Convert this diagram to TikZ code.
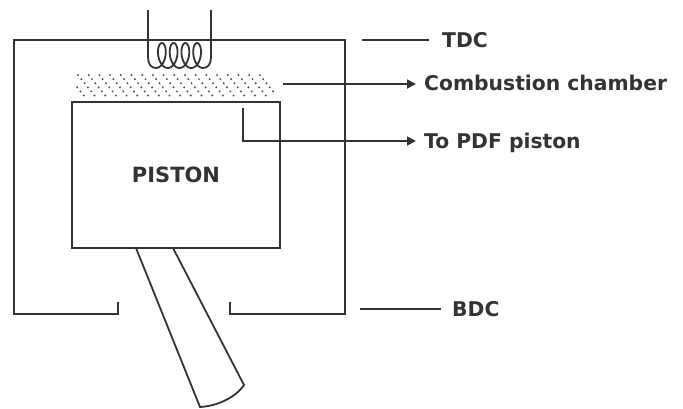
\documentclass[tikz,border=0pt]{standalone}
\usepackage{fontspec}
\setmainfont{DejaVu Sans}
\usetikzlibrary{arrows.meta}
\definecolor{ink}{HTML}{333333}
\tikzset{
  wall/.style={draw=ink,line width=2pt,line join=miter},
  thin wall/.style={draw=ink,line width=1.8pt},
  leader/.style={draw=ink,line width=1.8pt},
  pointer/.style={leader,-{Triangle[length=9pt,width=9pt]}},
  caption/.style={text=ink,font=\bfseries\fontsize{20.3}{24}\selectfont,inner sep=0pt,anchor=base west},
  speck/.style={fill=ink!85,draw=none}
}
\begin{document}
\begin{tikzpicture}[x=1pt,y=-1pt]
\useasboundingbox (0,0) rectangle (683,408);
% cylinder
\coordinate (cl) at (118,302);
\coordinate (cr) at (230,302);
\draw[wall] (cl) -- (118,314) -- (14,314) -- (14,40) -- (345,40) -- (345,314) -- (230,314) -- (cr);
% rod
\draw[thin wall] (136,248) -- (200,407) .. controls (217,406) and (235,398) .. (244,385) -- (173,248);
% piston
\node[wall,fill=white,minimum width=208pt,minimum height=146pt,inner sep=0pt,font=\bfseries\fontsize{21}{24}\selectfont,text=ink] (piston) at (176,175) {PISTON};
% coil
\draw[thin wall,line join=round] (148,10) -- (148,57) .. controls (148,64) and (151,68) .. (156,68)
  plot[smooth,samples=121,domain=0:1440] ({156+1.87*\x*pi/180+6.6*sin(\x)},{55.5+12.5*cos(\x)})
  .. controls (208,68) and (211,64) .. (211,57) -- (211,10);
% combustion dots
\foreach \r in {-2,...,17}{
  \foreach \k in {0,...,5}{
    \pgfmathsetmacro{\px}{78+10.7*\r+3.3*\k}
    \pgfmathsetmacro{\py}{75+4.1*\k}
    \ifdim\px pt>77pt\relax\ifdim\px pt<275pt\relax
      \fill[speck] (\px,\py) circle (1.1pt);
    \fi\fi
  }
}
% captions
\node[caption] (tdc) at (442,47) {TDC};
\node[caption] (comb) at (424,90.5) {Combustion chamber};
\node[caption] (pdf) at (424,148.5) {To PDF piston};
\node[caption] (bdc) at (452,316) {BDC};
% leaders
\coordinate (ltdc) at (362,40);
\coordinate (lbdc) at (360,309);
\coordinate (lcomb) at (283,84);
\coordinate (lpdf) at (243,108);
\draw[leader] (ltdc) -- (429,40);
\draw[leader] (lbdc) -- (441,309);
\draw[pointer] (lcomb) -- (416,84);
\draw[pointer] (lpdf) |- (416,141);
\end{tikzpicture}
\end{document}
